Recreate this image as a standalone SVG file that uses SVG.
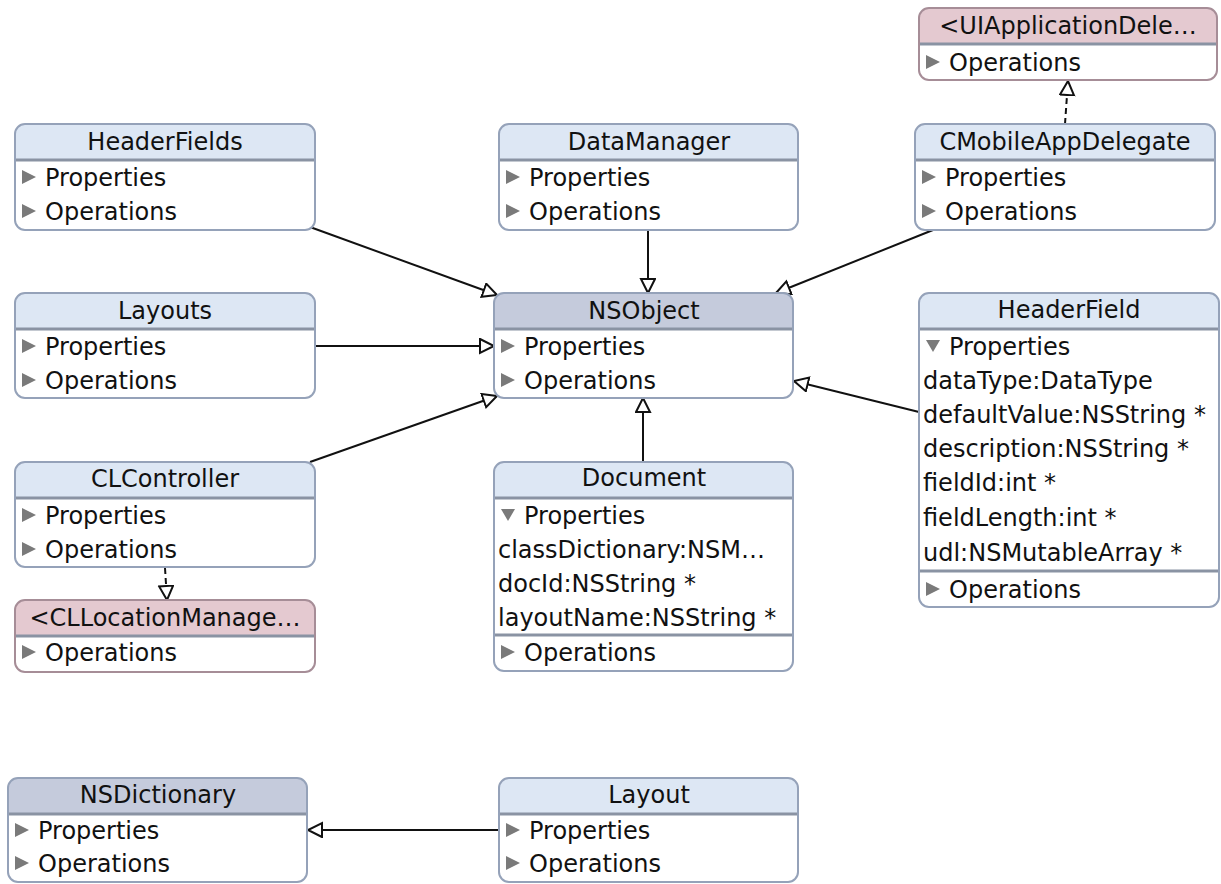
<svg xmlns="http://www.w3.org/2000/svg" width="1221" height="884" viewBox="0 0 1221 884">
<defs>
<style>
text{font-family:"DejaVu Sans","Liberation Sans",sans-serif;font-size:24px;fill:#111}
.title{text-anchor:middle}
.body{fill:#fff}
.border{fill:none;stroke:#95a2b9;stroke-width:2}
.hdr{fill:#dde7f4}
.hdr2{fill:#c5cbdc}
.hdrp{fill:#e4c9d0}
.borderp{fill:none;stroke:#a68d97;stroke-width:2}
.sep{stroke:#8a93a3;stroke-width:3}
.tri{fill:#7a7a7a}
.edge{fill:none;stroke:#111;stroke-width:2}
.dash{stroke-dasharray:6,4}
</style>
<marker id="gen" markerWidth="18" markerHeight="18" refX="15" refY="8" orient="auto" markerUnits="userSpaceOnUse">
<path d="M1,1 L15,8 L1,15 Z" fill="#fff" stroke="#111" stroke-width="2"/>
</marker>
</defs>
<rect width="1221" height="884" fill="#fff"/>

<g id="connectors">
<line class="edge" x1="310" y1="227" x2="497" y2="295" marker-end="url(#gen)"/>
<line class="edge" x1="648" y1="231" x2="648" y2="293" marker-end="url(#gen)"/>
<line class="edge" x1="933" y1="230" x2="776" y2="293" marker-end="url(#gen)"/>
<line class="edge" x1="315" y1="346" x2="494" y2="346" marker-end="url(#gen)"/>
<line class="edge" x1="310" y1="462" x2="497" y2="396" marker-end="url(#gen)"/>
<line class="edge" x1="643" y1="462" x2="643" y2="398" marker-end="url(#gen)"/>
<line class="edge" x1="919" y1="412" x2="794" y2="381" marker-end="url(#gen)"/>
<line class="edge dash" x1="1065" y1="124" x2="1068" y2="81" marker-end="url(#gen)"/>
<line class="edge dash" x1="165" y1="568" x2="167" y2="600" marker-end="url(#gen)"/>
<line class="edge" x1="499" y1="830" x2="308" y2="830" marker-end="url(#gen)"/>
</g>

<g id="HeaderFields" transform="translate(15,124)">
<rect class="body" width="300" height="106" rx="10"/>
<path class="hdr" d="M0,36 V10 A10,10 0 0 1 10,0 H290 A10,10 0 0 1 300,10 V36 Z"/>
<line class="sep" x1="0" y1="36" x2="300" y2="36"/>
<rect class="border" width="300" height="106" rx="10"/>
<text class="title" x="150" y="26">HeaderFields</text>
<path class="tri" d="M7,46 L21,53 L7,60 Z"/><text x="30" y="62">Properties</text>
<path class="tri" d="M7,80 L21,87 L7,94 Z"/><text x="30" y="96">Operations</text>
</g>

<g id="DataManager" transform="translate(499,124)">
<rect class="body" width="299" height="106" rx="10"/>
<path class="hdr" d="M0,36 V10 A10,10 0 0 1 10,0 H289 A10,10 0 0 1 299,10 V36 Z"/>
<line class="sep" x1="0" y1="36" x2="299" y2="36"/>
<rect class="border" width="299" height="106" rx="10"/>
<text class="title" x="150" y="26">DataManager</text>
<path class="tri" d="M7,46 L21,53 L7,60 Z"/><text x="30" y="62">Properties</text>
<path class="tri" d="M7,80 L21,87 L7,94 Z"/><text x="30" y="96">Operations</text>
</g>

<g id="CMobileAppDelegate" transform="translate(915,124)">
<rect class="body" width="300" height="106" rx="10"/>
<path class="hdr" d="M0,36 V10 A10,10 0 0 1 10,0 H290 A10,10 0 0 1 300,10 V36 Z"/>
<line class="sep" x1="0" y1="36" x2="300" y2="36"/>
<rect class="border" width="300" height="106" rx="10"/>
<text class="title" x="150" y="26">CMobileAppDelegate</text>
<path class="tri" d="M7,46 L21,53 L7,60 Z"/><text x="30" y="62">Properties</text>
<path class="tri" d="M7,80 L21,87 L7,94 Z"/><text x="30" y="96">Operations</text>
</g>

<g id="UIApplicationDelegate" transform="translate(919,8)">
<rect class="body" width="298" height="72" rx="10"/>
<path class="hdrp" d="M0,36 V10 A10,10 0 0 1 10,0 H288 A10,10 0 0 1 298,10 V36 Z"/>
<line class="sep" x1="0" y1="36" x2="298" y2="36"/>
<rect class="borderp" width="298" height="72" rx="10"/>
<text class="title" x="149" y="26">&lt;UIApplicationDele…</text>
<path class="tri" d="M7,47 L21,54 L7,61 Z"/><text x="30" y="63">Operations</text>
</g>

<g id="Layouts" transform="translate(15,293)">
<rect class="body" width="300" height="105" rx="10"/>
<path class="hdr" d="M0,36 V10 A10,10 0 0 1 10,0 H290 A10,10 0 0 1 300,10 V36 Z"/>
<line class="sep" x1="0" y1="36" x2="300" y2="36"/>
<rect class="border" width="300" height="105" rx="10"/>
<text class="title" x="150" y="26">Layouts</text>
<path class="tri" d="M7,46 L21,53 L7,60 Z"/><text x="30" y="62">Properties</text>
<path class="tri" d="M7,80 L21,87 L7,94 Z"/><text x="30" y="96">Operations</text>
</g>

<g id="NSObject" transform="translate(494,293)">
<rect class="body" width="299" height="105" rx="10"/>
<path class="hdr2" d="M0,36 V10 A10,10 0 0 1 10,0 H289 A10,10 0 0 1 299,10 V36 Z"/>
<line class="sep" x1="0" y1="36" x2="299" y2="36"/>
<rect class="border" width="299" height="105" rx="10"/>
<text class="title" x="150" y="26">NSObject</text>
<path class="tri" d="M7,46 L21,53 L7,60 Z"/><text x="30" y="62">Properties</text>
<path class="tri" d="M7,80 L21,87 L7,94 Z"/><text x="30" y="96">Operations</text>
</g>

<g id="HeaderField" transform="translate(919,293)">
<rect class="body" width="300" height="314" rx="10"/>
<path class="hdr" d="M0,36 V10 A10,10 0 0 1 10,0 H290 A10,10 0 0 1 300,10 V36 Z"/>
<line class="sep" x1="0" y1="36" x2="300" y2="36"/>
<line class="sep" x1="0" y1="278" x2="300" y2="278"/>
<rect class="border" width="300" height="314" rx="10"/>
<text class="title" x="150" y="25">HeaderField</text>
<path class="tri" d="M7,47 L21,47 L14,59 Z"/><text x="30" y="62">Properties</text>
<text x="4" y="96">dataType:DataType</text>
<text x="4" y="130">defaultValue:NSString *</text>
<text x="4" y="164">description:NSString *</text>
<text x="4" y="198">fieldId:int *</text>
<text x="4" y="233">fieldLength:int *</text>
<text x="4" y="268">udl:NSMutableArray *</text>
<path class="tri" d="M7,289 L21,296 L7,303 Z"/><text x="30" y="305">Operations</text>
</g>

<g id="CLController" transform="translate(15,462)">
<rect class="body" width="300" height="105" rx="10"/>
<path class="hdr" d="M0,36 V10 A10,10 0 0 1 10,0 H290 A10,10 0 0 1 300,10 V36 Z"/>
<line class="sep" x1="0" y1="36" x2="300" y2="36"/>
<rect class="border" width="300" height="105" rx="10"/>
<text class="title" x="150" y="25">CLController</text>
<path class="tri" d="M7,46 L21,53 L7,60 Z"/><text x="30" y="62">Properties</text>
<path class="tri" d="M7,80 L21,87 L7,94 Z"/><text x="30" y="96">Operations</text>
</g>

<g id="CLLocationManagerDelegate" transform="translate(15,600)">
<rect class="body" width="300" height="72" rx="10"/>
<path class="hdrp" d="M0,36 V10 A10,10 0 0 1 10,0 H290 A10,10 0 0 1 300,10 V36 Z"/>
<line class="sep" x1="0" y1="36" x2="300" y2="36"/>
<rect class="borderp" width="300" height="72" rx="10"/>
<text class="title" x="150" y="26">&lt;CLLocationManage…</text>
<path class="tri" d="M7,45 L21,52 L7,59 Z"/><text x="30" y="61">Operations</text>
</g>

<g id="Document" transform="translate(494,462)">
<rect class="body" width="299" height="209" rx="10"/>
<path class="hdr" d="M0,36 V10 A10,10 0 0 1 10,0 H289 A10,10 0 0 1 299,10 V36 Z"/>
<line class="sep" x1="0" y1="36" x2="299" y2="36"/>
<line class="sep" x1="0" y1="173" x2="299" y2="173"/>
<rect class="border" width="299" height="209" rx="10"/>
<text class="title" x="150" y="24">Document</text>
<path class="tri" d="M7,47 L21,47 L14,59 Z"/><text x="30" y="62">Properties</text>
<text x="4" y="96">classDictionary:NSM…</text>
<text x="4" y="130">docId:NSString *</text>
<text x="4" y="164">layoutName:NSString *</text>
<path class="tri" d="M7,183 L21,190 L7,197 Z"/><text x="30" y="199">Operations</text>
</g>

<g id="NSDictionary" transform="translate(8,778)">
<rect class="body" width="299" height="104" rx="10"/>
<path class="hdr2" d="M0,36 V10 A10,10 0 0 1 10,0 H289 A10,10 0 0 1 299,10 V36 Z"/>
<line class="sep" x1="0" y1="36" x2="299" y2="36"/>
<rect class="border" width="299" height="104" rx="10"/>
<text class="title" x="150" y="25">NSDictionary</text>
<path class="tri" d="M7,45 L21,52 L7,59 Z"/><text x="30" y="61">Properties</text>
<path class="tri" d="M7,78 L21,85 L7,92 Z"/><text x="30" y="94">Operations</text>
</g>

<g id="Layout" transform="translate(499,778)">
<rect class="body" width="299" height="104" rx="10"/>
<path class="hdr" d="M0,36 V10 A10,10 0 0 1 10,0 H289 A10,10 0 0 1 299,10 V36 Z"/>
<line class="sep" x1="0" y1="36" x2="299" y2="36"/>
<rect class="border" width="299" height="104" rx="10"/>
<text class="title" x="150" y="25">Layout</text>
<path class="tri" d="M7,45 L21,52 L7,59 Z"/><text x="30" y="61">Properties</text>
<path class="tri" d="M7,78 L21,85 L7,92 Z"/><text x="30" y="94">Operations</text>
</g>
</svg>
